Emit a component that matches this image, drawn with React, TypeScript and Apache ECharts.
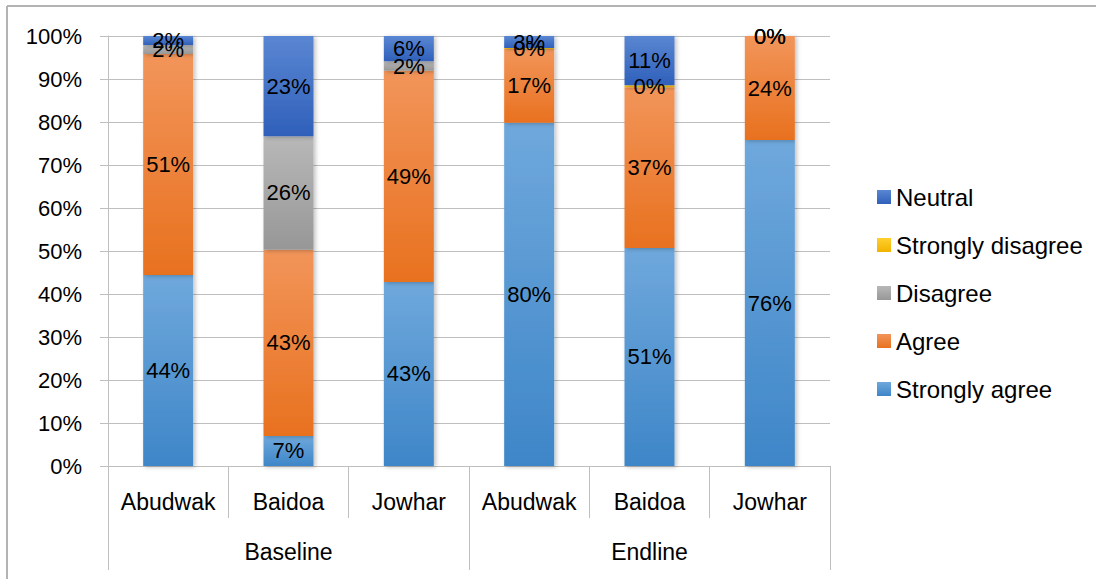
import React, { useEffect, useRef } from "react";
import * as echarts from "echarts";

const categories = ["Abudwak", "Baidoa", "Jowhar", "Abudwak", "Baidoa", "Jowhar"];
const groups = ["Baseline", "Endline"];
const yTicks = { min: 0, max: 100, interval: 10 };

const stronglyAgree = [44.4, 7.0, 42.8, 79.8, 50.7, 75.8];
const agree = [51.4, 43.3, 49.1, 17.2, 37.4, 24.2];
const disagree = [2.1, 26.4, 2.2, null, null, null];
const stronglyDisagree = [null, null, null, 0.2, 0.45, 0.0];
const neutral = [2.1, 23.3, 5.9, 2.8, 11.45, 0.0];

const FONT = "Liberation Sans, Arial, sans-serif";

function grad(top: string, bottom: string) {
  return new echarts.graphic.LinearGradient(0, 0, 0, 1, [
    { offset: 0, color: top },
    { offset: 1, color: bottom },
  ]);
}

export default function App() {
  const ref = useRef<HTMLDivElement>(null);
  useEffect(() => {
    if (!ref.current) return;
    const chart = echarts.init(ref.current, null, { renderer: "svg" });
    const label = {
      show: true,
      position: "inside" as const,
      color: "#000",
      fontSize: 22,
      fontFamily: FONT,
      formatter: (p: any) =>
        p.value === null || p.value === undefined || p.value === "-" ? "" : `${Math.round(p.value)}%`,
    };
    const shadow = {
      shadowBlur: 4,
      shadowColor: "rgba(0,0,0,0.25)",
      shadowOffsetX: 2,
      shadowOffsetY: 1,
    };
    const mk = (name: string, data: (number | null)[], color: any) => ({
      name,
      type: "bar" as const,
      stack: "total",
      barWidth: 50,
      data,
      label,
      itemStyle: { color, ...shadow },
      emphasis: { disabled: true },
    });
    chart.setOption({
      animation: false,
      backgroundColor: "#fff",
      textStyle: { fontFamily: FONT },
      grid: { left: 108, right: 266, top: 36, bottom: 113, containLabel: false },
      legend: {
        orient: "vertical",
        left: 872,
        top: 180,
        itemWidth: 14,
        itemHeight: 14,
        itemGap: 24,
        icon: "rect",
        data: ["Neutral", "Strongly disagree", "Disagree", "Agree", "Strongly agree"],
        textStyle: { fontSize: 24, fontFamily: FONT, color: "#000", lineHeight: 24 },
      },
      xAxis: [
        {
          type: "category",
          data: categories,
          axisLine: { show: true, lineStyle: { color: "#bfbfbf", width: 1 } },
          axisTick: { show: true, interval: 0, length: 52, lineStyle: { color: "#bfbfbf" } },
          axisLabel: { interval: 0, margin: 24, fontSize: 23, color: "#000", fontFamily: FONT },
          splitLine: { show: false },
        },
        {
          type: "category",
          data: groups,
          position: "bottom",
          axisLine: { show: false },
          axisTick: { show: true, interval: 0, length: 104, lineStyle: { color: "#bfbfbf" } },
          axisLabel: { interval: 0, margin: 74, fontSize: 23, color: "#000", fontFamily: FONT },
          splitLine: { show: false },
        },
      ],
      yAxis: {
        type: "value",
        min: yTicks.min,
        max: yTicks.max,
        interval: yTicks.interval,
        axisLine: { show: true, lineStyle: { color: "#bfbfbf" } },
        axisTick: { show: true, length: 8, inside: false, lineStyle: { color: "#bfbfbf" } },
        axisLabel: { formatter: "{value}%", fontSize: 22, color: "#000", margin: 26, fontFamily: FONT },
        splitLine: { show: true, lineStyle: { color: "#bfbfbf", width: 1 } },
      },
      graphic: [
        { type: "line", shape: { x1: 7, y1: 6, x2: 1096, y2: 6 }, style: { stroke: "#b3b3b3", lineWidth: 2 } },
        { type: "line", shape: { x1: 7, y1: 6, x2: 7, y2: 579 }, style: { stroke: "#b3b3b3", lineWidth: 2 } },
      ],
      series: [
        mk("Strongly agree", stronglyAgree, grad("#6fa8dc", "#3e86c8")),
        mk("Agree", agree, grad("#f2955a", "#e8711f")),
        mk("Disagree", disagree, grad("#b8b8b8", "#979797")),
        mk("Strongly disagree", stronglyDisagree, grad("#ffd02e", "#f2b300")),
        mk("Neutral", neutral, grad("#5a86d2", "#2f60ba")),
      ],
    });
    return () => chart.dispose();
  }, []);
  return (
    <div
      ref={ref}
      style={{ position: "fixed", left: 0, top: 0, width: 1096, height: 579 }}
    />
  );
}
